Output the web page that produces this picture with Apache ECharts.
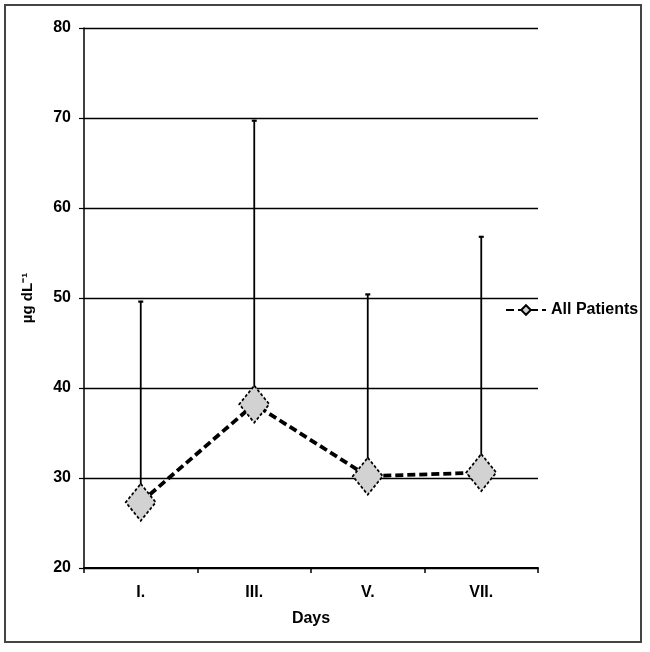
<!DOCTYPE html>
<html>
<head>
<meta charset="utf-8">
<script src="https://cdn.jsdelivr.net/npm/echarts@6/dist/echarts.min.js"></script>
<style>
html,body{margin:0;padding:0;background:#fff;}
#chart{width:650px;height:652px;}
</style>
</head>
<body>
<div id="chart"></div>
<script>
var categories = ['I.', 'III.', 'V.', 'VII.'];
var meanValues = [27.3, 38.2, 30.2, 30.6];
var upperValues = [49.6, 69.7, 50.4, 56.8];
var yTicks = [20, 30, 40, 50, 60, 70, 80];

var chart = echarts.init(document.getElementById('chart'));
var FONT = '"Liberation Sans", Arial, sans-serif';

var errData = categories.map(function (c, i) { return [i, meanValues[i], upperValues[i]]; });

var option = {
  animation: false,
  backgroundColor: '#fff',
  graphic: [{
    type: 'rect',
    shape: { x: 5, y: 5, width: 636, height: 637 },
    style: { fill: 'none', stroke: '#444', lineWidth: 2 },
    silent: true
  }],
  grid: { left: 84, right: 112, top: 28, bottom: 84 },
  legend: {
    data: ['All Patients'],
    left: 505,
    top: 302,
    padding: 0,
    itemWidth: 40,
    itemHeight: 12,
    itemGap: 4,
    textStyle: { fontFamily: FONT, fontWeight: 'bold', fontSize: 16, color: '#000' }
  },
  xAxis: {
    type: 'category',
    data: categories,
    boundaryGap: true,
    name: 'Days',
    nameLocation: 'middle',
    nameGap: 43,
    nameTextStyle: { fontFamily: FONT, fontWeight: 'bold', fontSize: 16, color: '#000' },
    axisLine: { lineStyle: { color: '#000', width: 2 } },
    axisTick: { show: true, length: 5, lineStyle: { color: '#000', width: 1.5 } },
    axisLabel: { margin: 17, fontFamily: FONT, fontWeight: 'bold', fontSize: 16, color: '#000' },
    splitLine: { show: false }
  },
  yAxis: {
    type: 'value',
    min: yTicks[0],
    max: yTicks[yTicks.length - 1],
    interval: 10,
    name: 'µg dL⁻¹',
    nameLocation: 'middle',
    nameGap: 49,
    nameTextStyle: { fontFamily: FONT, fontWeight: 'bold', fontSize: 15, color: '#000' },
    axisLine: { show: true, lineStyle: { color: '#000', width: 1.5 } },
    axisTick: { show: true, length: 5, lineStyle: { color: '#000', width: 1.2 } },
    axisLabel: { margin: 13, fontFamily: FONT, fontWeight: 'bold', fontSize: 16, color: '#000' },
    splitLine: { show: true, lineStyle: { color: '#000', width: 1.4 } }
  },
  series: [
    {
      type: 'custom',
      name: 'err',
      z: 1,
      data: errData,
      renderItem: function (params, api) {
        var x = api.value(0);
        var lo = api.coord([x, api.value(1)]);
        var hi = api.coord([x, api.value(2)]);
        var cw = 2.5;
        return {
          type: 'group',
          children: [
            { type: 'line', shape: { x1: lo[0], y1: lo[1], x2: hi[0], y2: hi[1] },
              style: { stroke: '#000', lineWidth: 1.8 } },
            { type: 'line', shape: { x1: hi[0] - cw, y1: hi[1], x2: hi[0] + cw, y2: hi[1] },
              style: { stroke: '#000', lineWidth: 2.2 } }
          ]
        };
      }
    },
    {
      type: 'line',
      name: 'All Patients',
      z: 3,
      data: meanValues,
      symbol: 'diamond',
      symbolSize: [30, 37],
      itemStyle: { color: '#d2d2d2', borderColor: '#000', borderWidth: 1.8, borderType: [3, 2] },
      lineStyle: { color: '#000', width: 3.8, type: [8, 4] }
    }
  ]
};
chart.setOption(option);
</script>
</body>
</html>
